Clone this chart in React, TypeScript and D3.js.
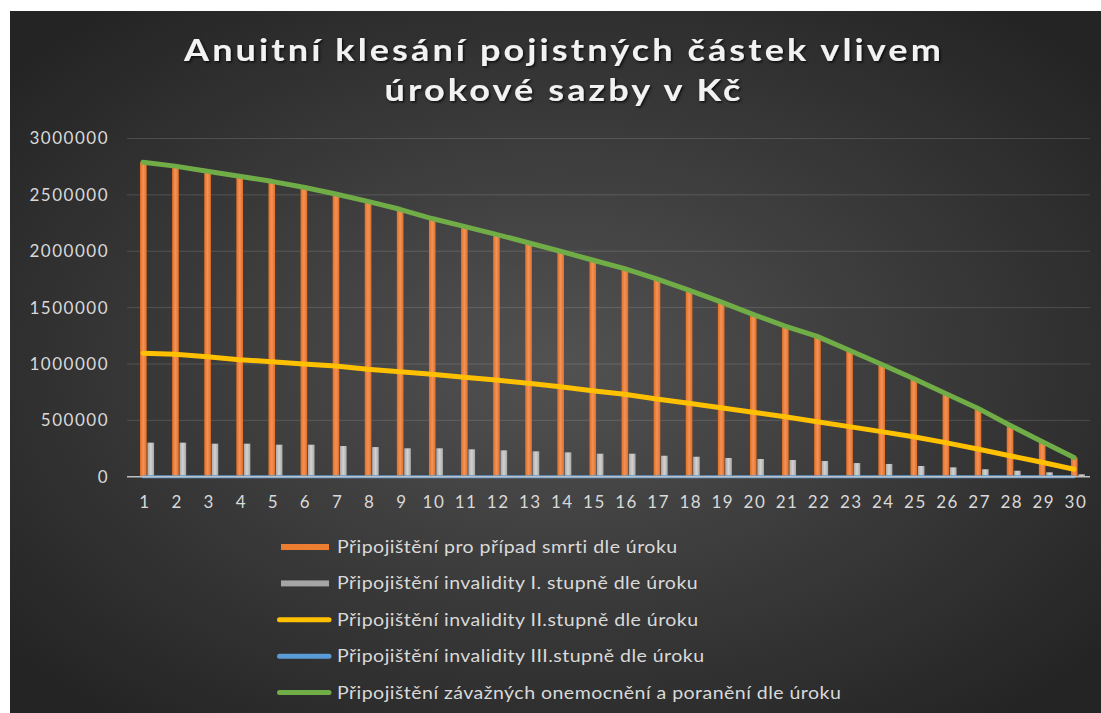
import React from "react"
import * as d3 from "d3"

const title1 = "Anuitní klesání pojistných částek vlivem"
const title2 = "úrokové sazby v Kč"

const years = [1, 2, 3, 4, 5, 6, 7, 8, 9, 10, 11, 12, 13, 14, 15, 16, 17, 18, 19, 20, 21, 22, 23, 24, 25, 26, 27, 28, 29, 30]

// Připojištění pro případ smrti (sloupce)
const smrt = [2790000, 2755000, 2710000, 2665000, 2620000, 2567000, 2508000, 2442000, 2372000, 2290000, 2220000, 2150000, 2075000, 2000000, 1922000, 1845000, 1755000, 1655000, 1550000, 1440000, 1335000, 1245000, 1122000, 998000, 871000, 738000, 608000, 457000, 312000, 170000]
// invalidita I. stupně (sloupce)
const inv1 = [302000, 302000, 293000, 293000, 284000, 284000, 272000, 263000, 252000, 252000, 243000, 234000, 225000, 216000, 204000, 204000, 186000, 177000, 166000, 157000, 148000, 139000, 121000, 113000, 95000, 83000, 66000, 53000, 39000, 21000]
// invalidita II. stupně (čára)
const inv2 = [1095000, 1086000, 1065000, 1038000, 1020000, 1000000, 982000, 953000, 932000, 908000, 882000, 858000, 828000, 798000, 763000, 731000, 690000, 651000, 612000, 571000, 532000, 488000, 444000, 400000, 355000, 302000, 246000, 186000, 128000, 66000]
// invalidita III. stupně (čára)
const inv3 = [0, 0, 0, 0, 0, 0, 0, 0, 0, 0, 0, 0, 0, 0, 0, 0, 0, 0, 0, 0, 0, 0, 0, 0, 0, 0, 0, 0, 0, 0]
// závažná onemocnění a poranění (čára)
const zavazne = [2790000, 2755000, 2710000, 2665000, 2620000, 2567000, 2508000, 2442000, 2372000, 2290000, 2220000, 2150000, 2075000, 2000000, 1922000, 1845000, 1755000, 1655000, 1550000, 1440000, 1335000, 1245000, 1122000, 998000, 871000, 738000, 608000, 457000, 312000, 170000]

const yTicks = [0, 500000, 1000000, 1500000, 2000000, 2500000, 3000000]

const legendItems = [
  { name: "Připojištění pro případ smrti dle úroku", color: "#ED7D31", kind: "bar" },
  { name: "Připojištění invalidity I. stupně dle úroku", color: "#A5A5A5", kind: "bar" },
  { name: "Připojištění invalidity II.stupně dle úroku", color: "#FFC000", kind: "line" },
  { name: "Připojištění invalidity III.stupně dle úroku", color: "#5B9BD5", kind: "line" },
  { name: "Připojištění závažných onemocnění a poranění dle úroku", color: "#70AD47", kind: "line" },
]

const W = 1101
const H = 713
const font = "Lato, 'Open Sans', sans-serif"

export default function App() {
  const x = d3.scaleBand<number>().domain(years).range([127, 1090])
  const y = d3.scaleLinear().domain([0, 3000000]).range([476.7, 138.5])
  const inner = d3.scaleBand<string>().domain(["smrt", "inv1"]).range([0, 14]).paddingInner(0.1)
  const cx = (d: number) => (x(d) as number) + x.bandwidth() / 2

  const line = (vals: number[]) =>
    d3
      .line<number>()
      .x((_, i) => cx(years[i]))
      .y(v => y(v))(vals) as string

  return (
    <svg width={W} height={H} style={{ position: "absolute", left: 0, top: 0, display: "block" }}>
      <defs>
        <radialGradient id="bg" cx="50%" cy="50%" r="65%">
          <stop offset="0%" stopColor="#525252" />
          <stop offset="100%" stopColor="#242424" />
        </radialGradient>
        <linearGradient id="orange" x1="0" x2="1" y1="0" y2="0">
          <stop offset="0%" stopColor="#E36F22" />
          <stop offset="50%" stopColor="#F3925A" />
          <stop offset="100%" stopColor="#E36F22" />
        </linearGradient>
        <linearGradient id="gray" x1="0" x2="1" y1="0" y2="0">
          <stop offset="0%" stopColor="#A8A8A8" />
          <stop offset="50%" stopColor="#D2D2D2" />
          <stop offset="100%" stopColor="#A8A8A8" />
        </linearGradient>
        <filter id="shadow" x="-5%" y="-20%" width="110%" height="140%">
          <feDropShadow dx="1.5" dy="1.5" stdDeviation="1.2" floodColor="#000" floodOpacity="0.7" />
        </filter>
      </defs>
      <rect x={0} y={0} width={W} height={H} fill="#fff" />
      <rect x={10} y={11} width={W - 10} height={H - 11} fill="url(#bg)" />

      <g filter="url(#shadow)" fill="#F2F2F2" fontFamily={font} fontWeight={700} fontSize={30} textAnchor="middle" letterSpacing={2.6}>
        <text transform="translate(564,61) scale(1.2,1)">{title1}</text>
        <text transform="translate(564,101) scale(1.2,1)">{title2}</text>
      </g>

      {/* mřížka */}
      <g>
        {yTicks.map(t => (
          <line key={t} x1={127} x2={1090} y1={y(t)} y2={y(t)} stroke="#ffffff" strokeOpacity={t === 0 ? 0 : 0.14} strokeWidth={1} />
        ))}
      </g>

      {/* osa y */}
      <g fill="#D9D9D9" fontFamily={font} fontSize={17} textAnchor="end" letterSpacing={1.5}>
        {yTicks.map(t => (
          <text key={t} x={109} y={y(t)} dy="0.35em">{t}</text>
        ))}
      </g>

      {/* sloupce */}
      <g>
        {years.map((yr, i) => (
          <g key={yr}>
            <rect x={cx(yr) - 3 + (inner("smrt") as number)} y={y(smrt[i])} width={inner.bandwidth()} height={y(0) - y(smrt[i])} fill="url(#orange)" />
            <rect x={cx(yr) - 3 + (inner("inv1") as number)} y={y(inv1[i])} width={inner.bandwidth()} height={y(0) - y(inv1[i])} fill="url(#gray)" />
          </g>
        ))}
      </g>

      {/* osa x */}
      <path d={line(inv3)} fill="none" stroke="#5B9BD5" strokeWidth={3} strokeLinecap="round" />
      <line x1={127} x2={1090} y1={y(0)} y2={y(0)} stroke="#BFBFBF" strokeWidth={1.5} />

      {/* čáry */}
      <path d={line(inv2)} fill="none" stroke="#FFC000" strokeWidth={5} strokeLinecap="round" strokeLinejoin="round" />
      <path d={line(zavazne)} fill="none" stroke="#70AD47" strokeWidth={5} strokeLinecap="round" strokeLinejoin="round" />

      <g fill="#D9D9D9" fontFamily={font} fontSize={17} textAnchor="middle" letterSpacing={1.5}>
        {years.map(yr => (
          <text key={yr} x={cx(yr) + 2} y={502} dy="0.35em">{yr}</text>
        ))}
      </g>

      {/* legenda */}
      <g fontFamily={font} fontSize={17} fill="#D9D9D9" letterSpacing={0.4}>
        {legendItems.map((item, i) => {
          const ly = 547 + i * 36.4
          return (
            <g key={item.name}>
              {item.kind === "bar" ? (
                <rect x={281} y={ly - 3} width={48} height={6} fill={item.color} />
              ) : (
                <line x1={279.5} x2={329} y1={ly} y2={ly} stroke={item.color} strokeWidth={5} strokeLinecap="round" />
              )}
              <text transform={`translate(337,${ly}) scale(1.15,1)`} dy="0.35em">{item.name}</text>
            </g>
          )
        })}
      </g>
    </svg>
  )
}
